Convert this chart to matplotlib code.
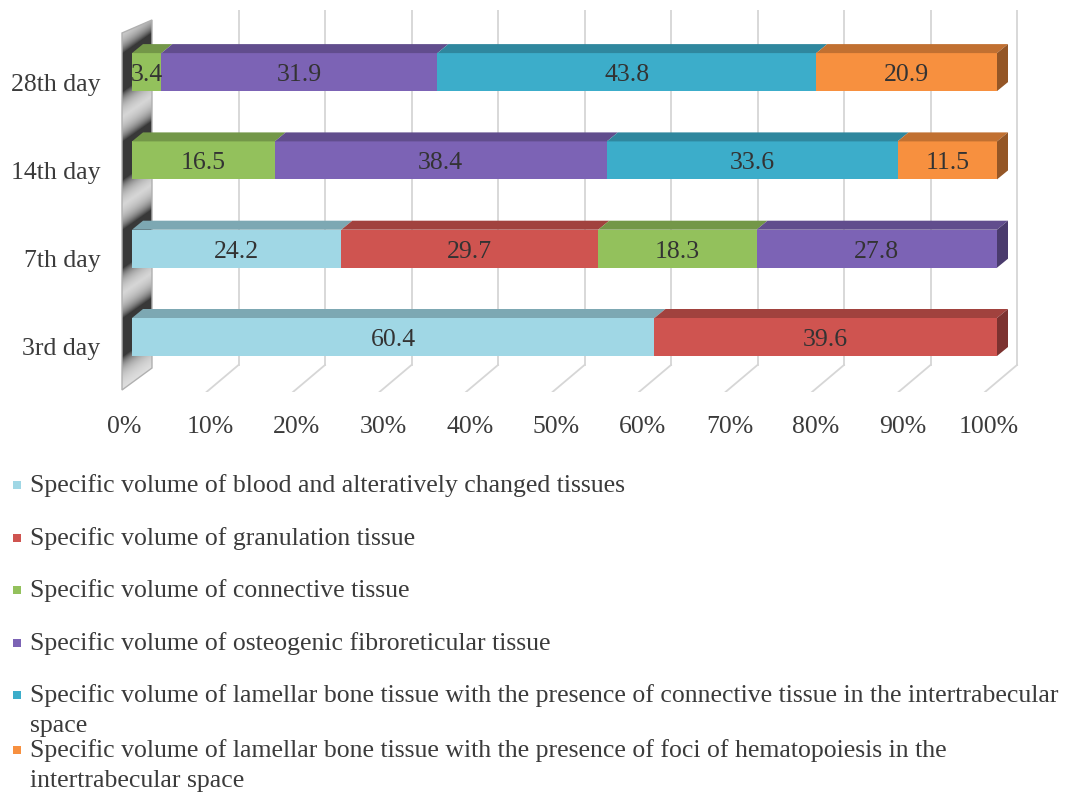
import numpy as np
import matplotlib.pyplot as plt
from matplotlib.patches import Polygon, Rectangle
from matplotlib.colors import to_rgb
from matplotlib.transforms import ScaledTranslation

plt.rcParams['font.family'] = ['Liberation Serif', 'DejaVu Serif']

## data
days = ['3rd day', '7th day', '14th day', '28th day']
tissue_names = [
    'Specific volume of blood and alteratively changed tissues',
    'Specific volume of granulation tissue',
    'Specific volume of connective tissue',
    'Specific volume of osteogenic fibroreticular tissue',
    'Specific volume of lamellar bone tissue with the presence of connective tissue in the intertrabecular\nspace',
    'Specific volume of lamellar bone tissue with the presence of foci of hematopoiesis in the\nintertrabecular space',
]
blood = [60.4, 24.2, 0, 0]
granulation = [39.6, 29.7, 0, 0]
connective = [0, 18.3, 16.5, 3.4]
osteogenic = [0, 27.8, 38.4, 31.9]
lamellar_connective = [0, 0, 33.6, 43.8]
lamellar_hematopoiesis = [0, 0, 11.5, 20.9]
pct_ticks = list(range(0, 101, 10))

series = [blood, granulation, connective, osteogenic,
          lamellar_connective, lamellar_hematopoiesis]
front_colors = ['#a0d7e5', '#cf5450', '#93c15c', '#7c63b5', '#3cadca', '#f7903f']

def shade(c, f):
    r, g, b = to_rgb(c)
    return (r * f, g * f, b * f)

W, H = 1071, 799
fig = plt.figure(figsize=(W / 100, H / 100), dpi=100)
fig.patch.set_facecolor('white')

## axes: 0% at x=132px, 100% at x=997px, categories 88.3px apart
PX = 100 / 865.0
PY = 1 / 88.3
AX_L = 110
ax = fig.add_axes([AX_L / W, 1 - 392 / H, (1030 - AX_L) / W, 382 / H])
XLIM = ((AX_L - 132) * PX, (1030 - 132) * PX)
YLIM = (-55 * PY, 327 * PY)
for s in ax.spines.values():
    s.set_visible(False)

BH = 38 * PY        # bar height
DX, DY = 11 * PX, 9 * PY   # depth of the 3d bars

txt_col = '#3b3b3b'
FS = 18.5

# back gridlines + floor
floor_back = -28 * PY
floor_front = -55 * PY
top = 327 * PY
for t in pct_ticks[1:]:
    xb = t + 20 * PX
    ax.plot([xb, xb], [floor_back, top], color='#d6d6d6', lw=1.3, zorder=0)
    ax.plot([xb, xb - 32 * PX], [floor_back, floor_front], color='#d6d6d6', lw=1.3, zorder=0)

# left wall with shadows near the bars
wall_px = [(122, 390), (122, 33), (152, 20), (152, 368)]
wall = Polygon([((x - 132) * PX, (337 - y) * PY) for x, y in wall_px],
               closed=True, facecolor='none', edgecolor='#b0b0b0', lw=1, zorder=2)
ax.add_patch(wall)
gx, gy = np.meshgrid(np.arange(118, 156), np.arange(15, 395))
ys = gy + 0.7 * (gx - 122)
dark = np.zeros_like(ys, dtype=float)
for i in range(len(days)):
    yc = 337 - 88.3 * i
    t_edge, b_edge = yc - 19, yc + 19
    d = np.where(ys < t_edge, t_edge - ys, np.where(ys > b_edge, ys - b_edge, 0))
    dark = np.maximum(dark, np.exp(-d / 11.0))
light = np.array([0.91, 0.91, 0.91])
darkc = np.array([0.22, 0.22, 0.22])
img = light[None, None, :] * (1 - dark[..., None]) + darkc[None, None, :] * dark[..., None]
im = ax.imshow(img, extent=[(118 - 132) * PX, (156 - 132) * PX, (337 - 395) * PY, (337 - 15) * PY],
               aspect='auto', origin='upper', zorder=1, interpolation='bilinear')
im.set_clip_path(wall)

# stacked 3d bars
lefts = np.zeros(len(days))
last_right = np.zeros(len(days))
for j, vals in enumerate(series):
    c = front_colors[j]
    for i, v in enumerate(vals):
        if v <= 0:
            continue
        l = lefts[i]
        ax.barh(i, v, left=l, height=BH, color=c, edgecolor='none', zorder=3)
        yt = i + BH / 2
        ax.add_patch(Polygon([(l, yt), (l + v, yt), (l + v + DX, yt + DY), (l + DX, yt + DY)],
                             closed=True, facecolor=shade(c, 0.78), edgecolor='none', zorder=3))
        ax.text(l + v / 2, i - 3 * PY, f'{v}', ha='center', va='center', fontsize=FS,
                color='#333333', zorder=5)
        lefts[i] = l + v
        last_right[i] = j
for i in range(len(days)):
    r = lefts[i]
    c = front_colors[int(last_right[i])]
    yb, yt = i - BH / 2, i + BH / 2
    ax.add_patch(Polygon([(r, yb), (r + DX, yb + DY), (r + DX, yt + DY), (r, yt)],
                         closed=True, facecolor=shade(c, 0.6), edgecolor='none', zorder=3))

ax.set_xlim(*XLIM)
ax.set_ylim(*YLIM)

# axis labels
ax.set_xticks(pct_ticks, [f'{t}%' for t in pct_ticks])
ax.set_yticks(range(len(days)), days)
ax.tick_params(axis='both', length=0, labelsize=FS, labelcolor=txt_col)
ax.tick_params(axis='x', pad=17)
ax.tick_params(axis='y', pad=7)
for lab in ax.get_xticklabels():
    lab.set_transform(lab.get_transform() + ScaledTranslation(-8 / 100, 0, fig.dpi_scale_trans))
for lab in ax.get_yticklabels():
    lab.set_transform(lab.get_transform() + ScaledTranslation(0, -10 / 100, fig.dpi_scale_trans))

# legend drawn by hand
leg_y = [487, 540, 592, 645, 697, 752]
for k, name in enumerate(tissue_names):
    y = leg_y[k]
    fig.patches.append(Rectangle((13 / W, 1 - (y + 2) / H), 8 / W, 8 / H,
                                 transform=fig.transFigure, facecolor=front_colors[k],
                                 edgecolor='none'))
    fig.text(30 / W, 1 - (y - 13) / H, name, ha='left', va='top', fontsize=FS,
             color=txt_col, linespacing=1.45)

fig.savefig('out.png', dpi=100)
